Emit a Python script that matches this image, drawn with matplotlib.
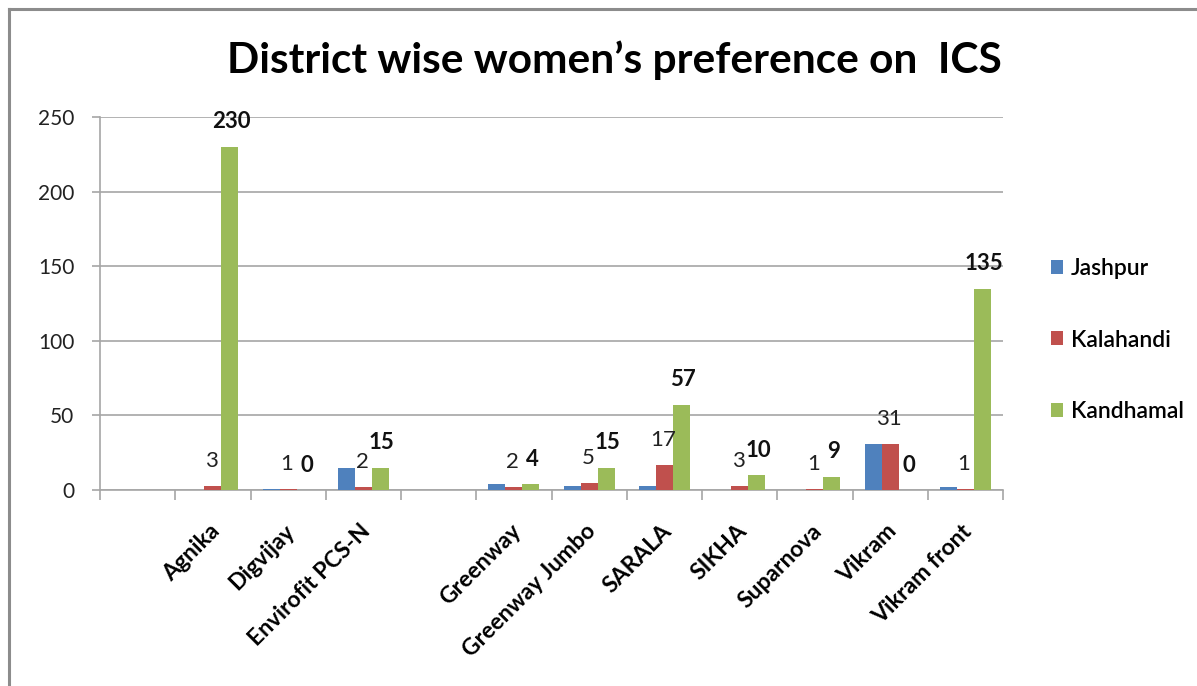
import matplotlib.pyplot as plt
import matplotlib.lines as mlines
import matplotlib.transforms as mtransforms
import numpy as np

categories = ['', 'Agnika', 'Digvijay', 'Envirofit PCS-N', '', 'Greenway',
              'Greenway Jumbo', 'SARALA', 'SIKHA', 'Suparnova', 'Vikram', 'Vikram front']
series_names = ['Jashpur', 'Kalahandi', 'Kandhamal']
jashpur = [0, 0, 1, 15, 0, 4, 3, 3, 0, 0, 31, 2]
kalahandi = [0, 3, 1, 2, 0, 2, 5, 17, 3, 1, 31, 1]
kandhamal = [0, 230, 0, 15, 0, 4, 15, 57, 10, 9, 0, 135]
# which categories carry a data label (blank groups / Jashpur have none)
kal_labels = [None, '3', '1', '2', None, '2', '5', '17', '3', '1', '31', '1']
kan_labels = [None, '230', '0', '15', None, '4', '15', '57', '10', '9', '0', '135']
yticks = [0, 50, 100, 150, 200, 250]

colors = ['#4F81BD', '#C0504D', '#9BBB59']
fontName = 'Lato'
plt.rcParams['font.family'] = [fontName, 'DejaVu Sans']

W, H = 1197, 686
fig = plt.figure(figsize=(W / 100, H / 100), dpi=100)
ax1 = fig.add_axes([100 / W, 1 - 490 / H, (1003 - 100) / W, (490 - 117) / H])

x = np.arange(len(categories))
bw = 0.225
data = [jashpur, kalahandi, kandhamal]
for i in range(3):
	ax1.bar(x + (i - 1) * bw, data[i], bw, color=colors[i], label=series_names[i], zorder=3)

for i in range(len(categories)):
	if kal_labels[i] is not None:
		ax1.annotate(kal_labels[i], (x[i], kalahandi[i]), xytext=(-1, 18), textcoords='offset points',
			ha='center', va='center', fontsize=16, color='#222222')
	if kan_labels[i] is not None:
		ax1.annotate(kan_labels[i], (x[i] + bw, kandhamal[i]), xytext=(1, 18), textcoords='offset points',
			ha='center', va='center', fontsize=16, fontweight='bold', color='#111111')

gridc = '#a6a6a6'
ax1.set_ylim(0, 250)
ax1.set_xlim(-0.5, len(categories) - 0.5)
ax1.set_yticks(yticks)
ax1.yaxis.grid(True, color=gridc, linewidth=1.2, zorder=0)
ax1.set_axisbelow(True)
for s in ['top', 'right']:
	ax1.spines[s].set_visible(False)
for s in ['left', 'bottom']:
	ax1.spines[s].set_color(gridc)
	ax1.spines[s].set_linewidth(1.2)

ax1.tick_params(axis='y', length=6, color=gridc, width=1.2, labelsize=15, pad=12.5, labelcolor='#222222')
ax1.set_xticks(np.arange(len(categories) + 1) - 0.5, minor=True)
ax1.set_xticks(x)
ax1.set_xticklabels(categories, rotation=45, ha='right', rotation_mode='anchor',
	fontsize=16.5, fontweight='bold')
ax1.tick_params(axis='x', which='major', length=0, pad=22)
ax1.tick_params(axis='x', which='minor', length=7, color=gridc, width=1.2)
for lab in ax1.get_xticklabels():
	lab.set_transform(lab.get_transform() + mtransforms.ScaledTranslation(-4 / 100, 0, fig.dpi_scale_trans))

fig.text(614 / W, 1 - 60 / H, 'District wise women\u2019s preference on  ICS', ha='center', va='center',
	fontsize=30.5, fontweight='bold')

handles, labels = ax1.get_legend_handles_labels()
leg = fig.legend(handles, labels, loc='center left', bbox_to_anchor=(1030 / W, 1 - 340 / H),
	frameon=False, fontsize=16.5, handlelength=0.55, handleheight=0.55, handletextpad=0.35, labelspacing=2.2)
for t in leg.get_texts():
	t.set_fontweight('semibold')

# outer chart frame (top and left only visible in the crop)
fig.add_artist(mlines.Line2D([9 / W, 1], [1 - 9 / H, 1 - 9 / H], color='#8c8c8c', lw=2.2))
fig.add_artist(mlines.Line2D([9 / W, 9 / W], [0, 1 - 9 / H], color='#8c8c8c', lw=2.2))

plt.savefig('out.png', dpi=100)
